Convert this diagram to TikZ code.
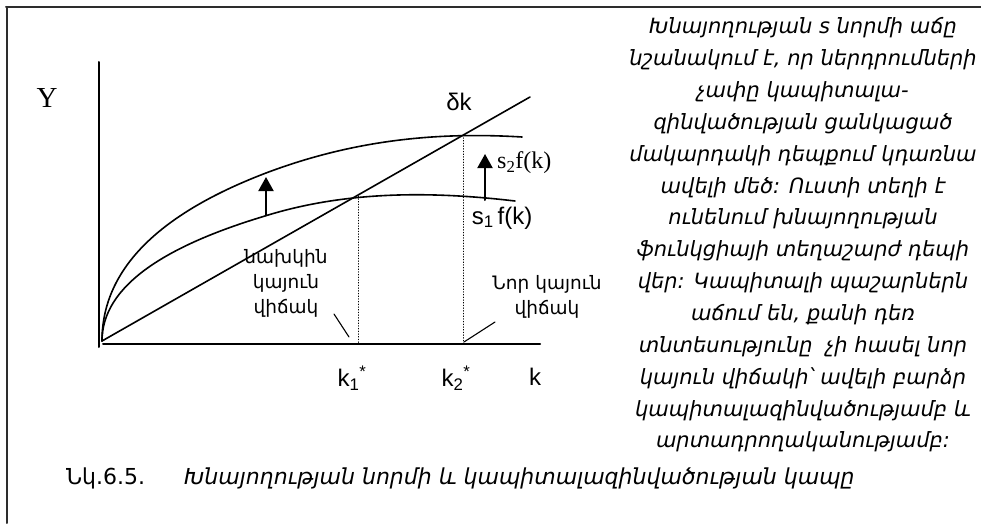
\documentclass[tikz,border=0pt]{standalone}
\usepackage{fontspec}
\setmainfont{DejaVu Sans}
\newfontfamily\armfont{DejaVu Sans}
\newfontfamily\arialfont{Liberation Sans}
\newfontfamily\timesfont{Liberation Serif}
\usetikzlibrary{arrows.meta}
\definecolor{ink}{RGB}{0,0,0}
\definecolor{rule}{RGB}{45,45,45}

\begin{document}
\begin{tikzpicture}[x=1pt,y=1pt,line cap=round,line join=round,
  curve/.style={ink,line width=1.6pt},
  axisline/.style={ink,line width=2pt},
  guide/.style={ink,line width=.7pt,dotted},
  pointer/.style={ink,line width=1.1pt},
  lift/.style={ink,line width=2pt,-{Triangle[width=15pt,length=14pt]}},
  lbl/.style={font=\arialfont\fontsize{24}{28}\selectfont,text=ink,inner sep=0pt},
  seriflbl/.style={font=\timesfont\fontsize{24}{28}\selectfont,text=ink,inner sep=0pt},
  armlbl/.style={font=\armfont\fontsize{18.5}{25}\selectfont,align=center,text=ink,inner sep=0pt},
  bodytext/.style={font=\armfont\itshape\fontsize{21}{31.85}\selectfont,align=center,text=ink,inner sep=0pt},
  captext/.style={font=\armfont\fontsize{22}{26}\selectfont,text=ink,inner sep=0pt,anchor=base west}]
\useasboundingbox (0,0) rectangle (981,523);
\draw[rule,line width=2pt] (6,516) -- (981,516);
\draw[rule,line width=2pt] (7,516) -- (7,0);
\coordinate (O) at (102,182);
\coordinate (A1) at (358,327);
\coordinate (A2) at (463,388);
\coordinate (K1) at (358,179);
\coordinate (K2) at (463,179);
\draw[axisline] (99,461) -- (99,176);
\draw[axisline] (103,179) -- (540,179);
\draw[curve] (O) -- (530,426);
\draw[curve] (O) .. controls (102,237) and (165,277) .. (265,307)
  .. controls (345,332) and (430,332) .. (515,322);
\draw[curve] (O) .. controls (102,252) and (156,308) .. (266,350)
  .. controls (356,384) and (440,391) .. (522,386);
\draw[guide] (A1) -- (K1);
\draw[guide] (A2) -- (K2);
\draw[lift] (266,308) -- (266,346);
\draw[lift] (485,323) -- (485,369);
\node[seriflbl,font=\timesfont\fontsize{29}{32}\selectfont] (ylabel) at (47,425) {Y};
\node[lbl] (delta) at (459,421) {δk};
\node[seriflbl,anchor=west] (s2) at (497,360) {s\textsubscript{2}f(k)};
\node[lbl] (s1) at (502,305) {s\textsubscript{1}\,f(k)};
\node[lbl] (k1) at (352,145) {k\textsubscript{1}\textsuperscript{*}};
\node[lbl] (k2) at (456,145) {k\textsubscript{2}\textsuperscript{*}};
\node[lbl] (kaxis) at (535,146) {k};
\node[armlbl] (old) at (286,240) {նախկին\\կայուն\\վիճակ};
\node[armlbl] (new) at (547,226) {Նոր կայուն\\վիճակ};
\coordinate (oldtip) at (334,209);
\coordinate (oldend) at (349,186);
\coordinate (newtip) at (495,201);
\coordinate (newend) at (464,181);
\draw[pointer] (oldtip) -- (oldend);
\draw[pointer] (newtip) -- (newend);
\node[bodytext] (expl) at (803,288) {Խնայողության s նորմի աճը\\
նշանակում է, որ ներդրումների\\
չափը կապիտալա-\\
զինվածության ցանկացած\\
մակարդակի դեպքում կդառնա\\
ավելի մեծ: Ուստի տեղի է\\
ունենում խնայողության\\
ֆունկցիայի տեղաշարժ դեպի\\
վեր: Կապիտալի պաշարներն\\
աճում են, քանի դեռ\\
տնտեսությունը\ \ չի հասել նոր\\
կայուն վիճակի՝ ավելի բարձր\\
կապիտալազինվածությամբ և\\
արտադրողականությամբ:};
\node[captext] (figno) at (66,39) {Նկ.6.5.};
\node[captext,font=\armfont\itshape\fontsize{22}{26}\selectfont] (caption) at (184,39) {Խնայողության նորմի և կապիտալազինվածության կապը};
\end{tikzpicture}
\end{document}
